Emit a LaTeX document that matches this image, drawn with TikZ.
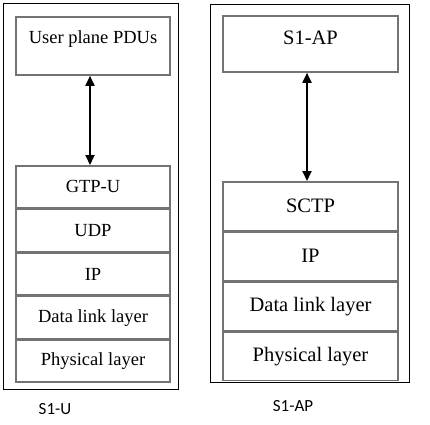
\documentclass[tikz,border=0pt]{standalone}
\usepackage{fontspec}
\setmainfont{Liberation Serif}
\newfontfamily\labelfont{Carlito}
\usetikzlibrary{positioning, arrows.meta}

\begin{document}
\begin{tikzpicture}[x=1pt, y=-1pt,
  layer/.style={draw=black!55, line width=1.6pt, inner sep=0pt, minimum width=#1},
  layer/.default=154pt,
  frame/.style={draw=black, line width=0.9pt},
  link/.style={{Triangle[length=10pt,width=9pt]}-{Triangle[length=10pt,width=9pt]}, line width=1.8pt}]

\useasboundingbox (0,0) rectangle (430,424);

% S1-U stack
\begin{scope}[font=\fontsize{18.5}{20}\selectfont]
\draw[frame] (3,3) rectangle (178,389);

\node[layer, minimum height=58pt, text height=12pt, text depth=18pt] (pdu) at (93,46) {User plane PDUs};

\node[layer, minimum height=42pt, anchor=north] (gtpu) at (93,165) {GTP-U};
\node[layer, minimum height=42pt, below=0pt of gtpu] (udp) {UDP};
\node[layer, minimum height=42pt, below=0pt of udp] (ipu) {IP};
\node[layer, minimum height=42pt, below=0pt of ipu] (dlu) {Data link layer};
\node[layer, minimum height=42pt, below=0pt of dlu] (phyu) {Physical layer};

\draw[link] ([xshift=-3pt]pdu.south) -- ([xshift=-3pt]gtpu.north);
\end{scope}

\node[font=\labelfont\fontsize{17}{20}\selectfont, anchor=base] (s1u) at (55,414) {S1-U};

% S1-AP stack
\begin{scope}[font=\fontsize{20.5}{22}\selectfont]
\draw[frame] (210,4) rectangle (409,382);

\node[layer=175pt, minimum height=56pt, text height=13pt, text depth=13pt] (ap) at (310.5,44) {S1-AP};

\node[layer=175pt, minimum height=48.5pt, anchor=north] (sctp) at (310.5,181) {SCTP};
\node[layer=175pt, minimum height=48.5pt, below=0pt of sctp] (ipa) {IP};
\node[layer=175pt, minimum height=48.5pt, below=0pt of ipa] (dla) {Data link layer};
\node[layer=175pt, minimum height=48.5pt, below=0pt of dla] (phya) {Physical layer};

\draw[link] ([xshift=-3.5pt]ap.south) -- ([xshift=-3.5pt]sctp.north);
\end{scope}

\node[font=\labelfont\fontsize{17}{20}\selectfont, anchor=base] (s1ap) at (293,411) {S1-AP};

\end{tikzpicture}
\end{document}
